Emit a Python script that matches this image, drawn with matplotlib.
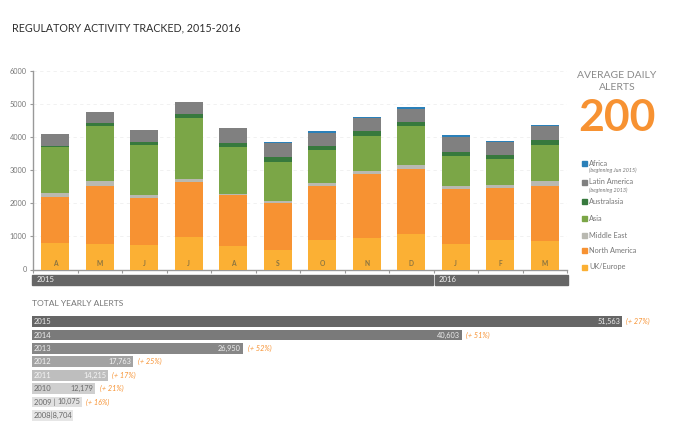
#!/usr/bin/env python3
import numpy as np
import matplotlib
matplotlib.use('Agg')
import matplotlib.pyplot as plt
from matplotlib.patches import Rectangle

plt.rcParams['font.family'] = ['Lato', 'DejaVu Sans']

W, H = 689, 437

# Dados mensais
months = ["A", "M", "J", "J", "A", "S", "O", "N", "D", "J", "F", "M"]
uk_europe = [816, 776, 736, 968, 706, 585, 877, 958, 1069, 766, 897, 847]
north_america = [1371, 1754, 1421, 1673, 1532, 1411, 1653, 1925, 1975, 1663, 1573, 1673]
middle_east = [132, 131, 81, 81, 50, 71, 71, 101, 101, 81, 90, 141]
asia = [1371, 1674, 1512, 1865, 1402, 1179, 1008, 1048, 1190, 917, 767, 1089]
australasia = [50, 80, 101, 101, 120, 161, 121, 151, 121, 121, 121, 161]
latin_america = [353, 353, 373, 362, 454, 414, 383, 384, 403, 444, 393, 414]
africa = [0, 0, 0, 0, 0, 20, 70, 30, 50, 60, 50, 30]

# Dados anuais; o comprimento desenhado nao e proporcional ao total no original
years = ["2015", "2014", "2013", "2012", "2011", "2010", "2009", "2008"]
bar_lengths = [590, 430, 211, 101, 76, 63, 50, 41]
totals = ["51,563", "40,603", "26,950", "17,763", "14,215", "12,179", "10,075", "8,704"]
changes = ["(+ 27%)", "(+ 51%)", "(+ 52%)", "(+ 25%)", "(+ 17%)", "(+ 21%)", "(+ 16%)", ""]

# Cores
C_UK = "#FBB034"
C_NA = "#F79232"
C_ME = "#B9B9B1"
C_ASIA = "#7BA647"
C_AUS = "#37793D"
C_LAT = "#808080"
C_AFR = "#2A80B9"
GRAY_TEXT = "#777777"
ORANGE = "#F79232"
YEAR_COLORS = ["#666666", "#7A7A7A", "#878787", "#A3A3A3", "#BEBEBE", "#CFCFCF", "#E0E0E0", "#E6E6E6"]
YEAR_TEXT = ["#EEEEEE", "#EEEEEE", "#EEEEEE", "#F5F5F5", "#F5F5F5", "#6A6A6A", "#6A6A6A", "#6A6A6A"]

fig = plt.figure(figsize=(W / 100, H / 100), dpi=100)


def px_axes(left, top, right, bottom):
    return fig.add_axes([left / W, 1 - bottom / H, (right - left) / W, (bottom - top) / H])


# Fundo em coordenadas de pixel para textos e legenda
bg = px_axes(0, 0, W, H)
bg.set_xlim(0, W)
bg.set_ylim(H, 0)
bg.axis('off')

bg.text(12, 27.5, "REGULATORY ACTIVITY TRACKED, 2015-2016", fontsize=7.7, color="#2E2E2E", va='center')

# Barras empilhadas
ax = px_axes(33, 71, 567, 269.5)
series = [
    (uk_europe, C_UK), (north_america, C_NA), (middle_east, C_ME), (asia, C_ASIA),
    (australasia, C_AUS), (latin_america, C_LAT), (africa, C_AFR),
]
x = np.arange(len(months))
bottom = np.zeros(len(months))
for vals, col in series:
    ax.bar(x, vals, width=0.62, bottom=bottom, color=col, zorder=3)
    bottom += np.array(vals)

ax.set_xlim(-0.5, 11.5)
ax.set_ylim(0, 6000)
ax.set_yticks(range(0, 6001, 1000))
ax.set_xticks(np.arange(-0.5, 11.6, 1))
ax.set_xticklabels([])
ax.tick_params(axis='y', labelsize=5.3, labelcolor=GRAY_TEXT, color="#999999", length=2.5, width=0.8, pad=2)
ax.tick_params(axis='x', color="#999999", length=2, width=0.8)
ax.grid(axis='y', color="#EFEFEF", linewidth=0.6, linestyle=(0, (4, 4)), zorder=0)
for side in ['top', 'right']:
    ax.spines[side].set_visible(False)
for side in ['left', 'bottom']:
    ax.spines[side].set_color("#999999")
    ax.spines[side].set_linewidth(1.0)
ax.patch.set_alpha(0)

for i, m in enumerate(months):
    ax.text(i, 190, m, ha='center', va='center', fontsize=4.8, fontweight='bold', color="#8A7440", zorder=4)

# Faixas dos anos
bg.add_patch(Rectangle((32, 275), 400.7, 10, color="#666666"))
bg.add_patch(Rectangle((435, 275), 133, 10, color="#666666"))
bg.text(36.5, 280, "2015", color="#F2F2F2", fontsize=5.6, va='center')
bg.text(439, 280, "2016", color="#F2F2F2", fontsize=5.6, va='center')

# Destaque da direita
bg.text(617, 75, "AVERAGE DAILY", color="#8A8A8A", fontsize=7.5, ha='center', va='center')
bg.text(617, 88, "ALERTS", color="#8A8A8A", fontsize=7.5, ha='center', va='center')
bg.text(617, 118, "200", color=ORANGE, fontsize=32, fontweight='bold', ha='center', va='center')

# Legenda
legend = [
    ("Africa", C_AFR, 163), ("Latin America", C_LAT, 182), ("Australasia", C_AUS, 201.7), ("Asia", C_ASIA, 218.5),
    ("Middle East", C_ME, 235), ("North America", C_NA, 250.7), ("UK/Europe", C_UK, 267),
]
for name, col, y in legend:
    bg.add_patch(Rectangle((582, y - 2.5), 5, 5, color=col))
    bg.text(589, y, name, fontsize=5.3, color=GRAY_TEXT, va='center')
bg.text(589, 170.7, "(beginning Jun 2015)", fontsize=3.9, style='italic', color=GRAY_TEXT, va='center')
bg.text(589, 190, "(beginning 2013)", fontsize=3.9, style='italic', color=GRAY_TEXT, va='center')

# Barras anuais
bg.text(32, 304, "TOTAL YEARLY ALERTS", fontsize=6.1, color=GRAY_TEXT, va='center')

ax2 = px_axes(32, 315, 657, 422)
ax2.set_xlim(0, 625)
ax2.set_ylim(len(years) - 0.5, -0.5)
ax2.axis('off')
ypos = np.arange(len(years))
ax2.barh(ypos, bar_lengths, height=0.81, color=YEAR_COLORS)
for i, yr in enumerate(years):
    if yr == "2008":
        ax2.text(1.5, i, f"{yr}|{totals[i]}", color=YEAR_TEXT[i], fontsize=5.5, va='center')
        continue
    label = yr + " |" if yr == "2009" else yr
    ax2.text(1.5, i, label, color=YEAR_TEXT[i], fontsize=5.5, va='center')
    ax2.text(bar_lengths[i] - 2, i, totals[i], color=YEAR_TEXT[i], fontsize=5.3, ha='right', va='center')
    ax2.text(bar_lengths[i] + 4.5, i, changes[i], color=ORANGE, fontsize=5.2, style='italic', va='center')

fig.savefig("out.png", dpi=100)
